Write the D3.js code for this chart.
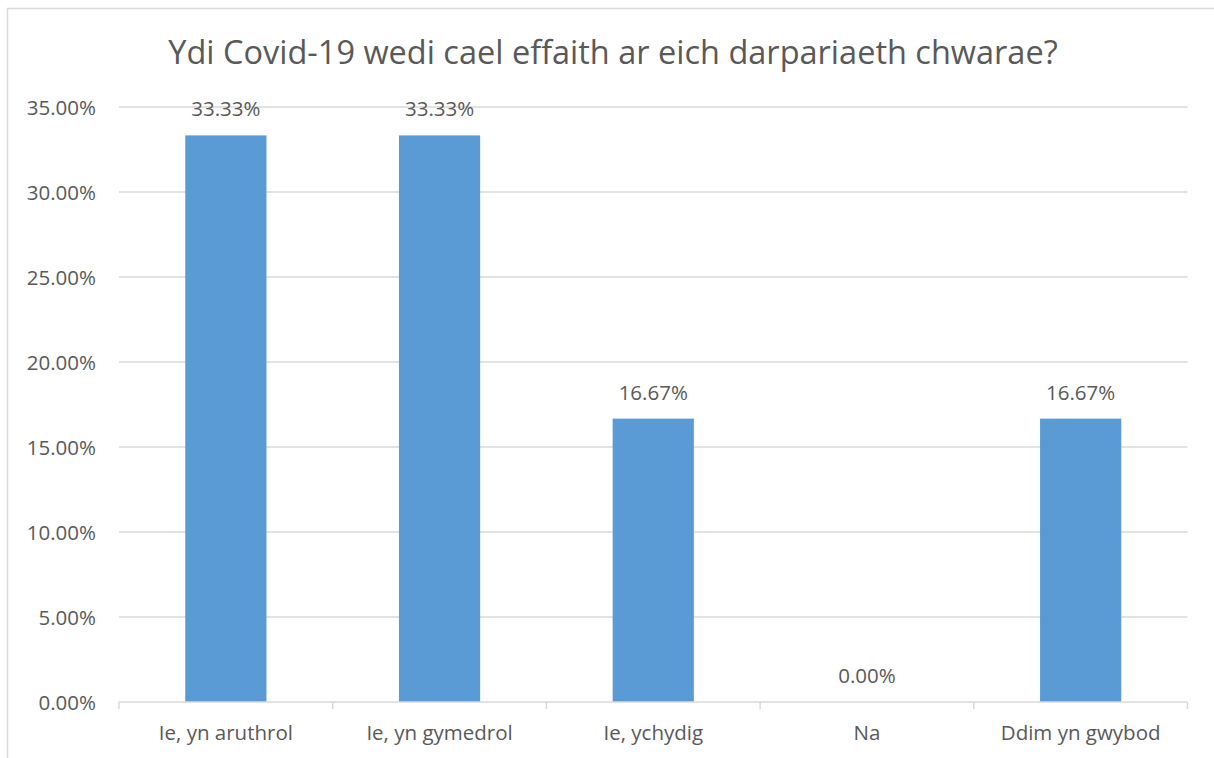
<!DOCTYPE html>
<html>
<head>
<meta charset="utf-8">
<script src="https://cdn.jsdelivr.net/npm/d3@7"></script>
<style>
  html, body { margin: 0; padding: 0; background: #fff; }
  svg { display: block; }
  text { font-family: "Open Sans", sans-serif; fill: #595959; }
</style>
</head>
<body>
<svg id="chart" width="1214" height="758"></svg>
<script>
const title = "Ydi Covid-19 wedi cael effaith ar eich darpariaeth chwarae?";
const categories = ["Ie, yn aruthrol", "Ie, yn gymedrol", "Ie, ychydig", "Na", "Ddim yn gwybod"];
const values = [33.33, 33.33, 16.67, 0.00, 16.67];
const yTicks = [0, 5, 10, 15, 20, 25, 30, 35];

const svg = d3.select("#chart");
const W = 1214, H = 758;
const plot = { left: 119, right: 1187.5, top: 107, bottom: 702 };

// chart border
svg.append("rect")
  .attr("x", 7.5).attr("y", 8.5)
  .attr("width", W + 10).attr("height", H + 10)
  .attr("fill", "#fff").attr("stroke", "#D9D9D9").attr("stroke-width", 1.5);

const x = d3.scaleBand()
  .domain(categories)
  .range([plot.left, plot.right])
  .paddingInner(0.62).paddingOuter(0.31);

const y = d3.scaleLinear().domain([0, 35]).range([plot.bottom, plot.top]);

// gridlines
svg.append("g")
  .selectAll("line")
  .data(yTicks.filter(d => d > 0))
  .join("line")
  .attr("x1", plot.left).attr("x2", plot.right)
  .attr("y1", d => y(d)).attr("y2", d => y(d))
  .attr("stroke", "#D9D9D9").attr("stroke-width", 1.3);

// y axis labels
const yAxis = d3.axisLeft(y).tickValues(yTicks).tickFormat(d => d.toFixed(2) + "%").tickSize(0).tickPadding(0);
const gy = svg.append("g").attr("transform", `translate(96,0)`).call(yAxis);
gy.select(".domain").remove();
gy.selectAll("text")
  .style("font-family", '"Open Sans", sans-serif')
  .style("font-size", "20.5px")
  .attr("fill", "#595959")
  .attr("dy", "0.35em");

// bars
svg.append("g")
  .selectAll("rect")
  .data(values)
  .join("rect")
  .attr("x", (d, i) => x(categories[i]))
  .attr("width", x.bandwidth())
  .attr("y", d => y(d))
  .attr("height", d => y(0) - y(d))
  .attr("fill", "#5B9BD5");

// x axis line + ticks at category boundaries
const step = x.step();
const boundaries = d3.range(categories.length + 1).map(i => plot.left + i * step);
const gx = svg.append("g");
gx.append("line")
  .attr("x1", plot.left).attr("x2", plot.right)
  .attr("y1", y(0)).attr("y2", y(0))
  .attr("stroke", "#D9D9D9").attr("stroke-width", 1.5);
gx.selectAll("line.tick")
  .data(boundaries)
  .join("line")
  .attr("class", "tick")
  .attr("x1", d => d).attr("x2", d => d)
  .attr("y1", y(0)).attr("y2", y(0) + 7)
  .attr("stroke", "#D9D9D9").attr("stroke-width", 1.5);

// x labels
const xAxis = d3.axisBottom(x).tickSize(0).tickPadding(0);
const gxl = svg.append("g").attr("transform", `translate(0,${y(0)})`).call(xAxis);
gxl.select(".domain").remove();
gxl.selectAll("text")
  .style("font-family", '"Open Sans", sans-serif')
  .style("font-size", "20.5px")
  .attr("fill", "#595959")
  .attr("dy", null)
  .attr("y", 38);

// value labels
svg.append("g")
  .selectAll("text")
  .data(values)
  .join("text")
  .attr("x", (d, i) => x(categories[i]) + x.bandwidth() / 2)
  .attr("y", d => y(d) - 19)
  .attr("text-anchor", "middle")
  .style("font-size", "20.5px")
  .text(d => d.toFixed(2) + "%");

// title
svg.append("text")
  .attr("x", 613)
  .attr("y", 64)
  .attr("text-anchor", "middle")
  .style("font-size", "32.5px")
  .text(title);
</script>
</body>
</html>
